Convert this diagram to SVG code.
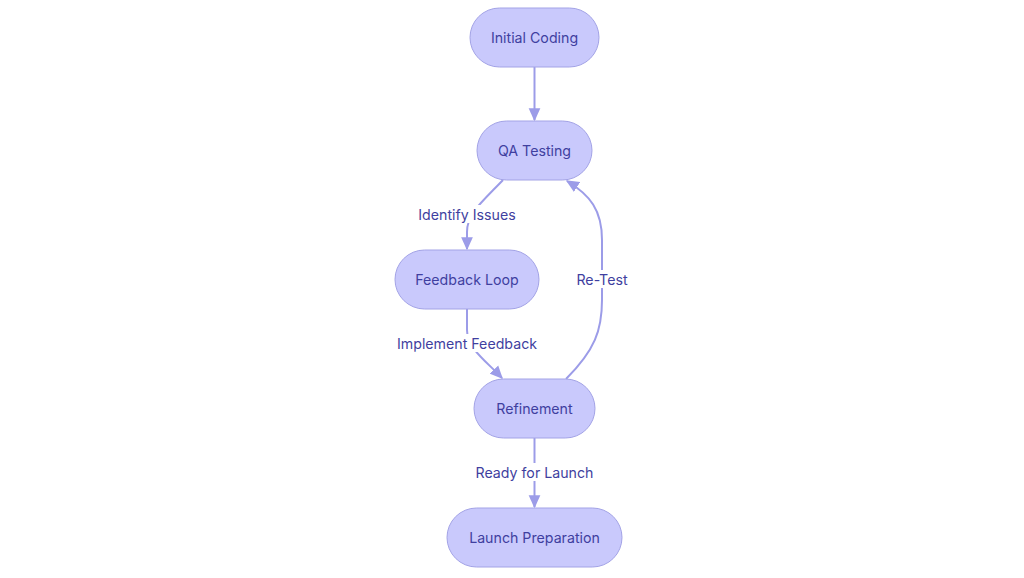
<svg xmlns="http://www.w3.org/2000/svg" width="1024" height="578" viewBox="0 0 1024 578">
<defs>
<marker id="arr" viewBox="0 0 10 10" refX="9" refY="5" markerWidth="13" markerHeight="13" markerUnits="userSpaceOnUse" orient="auto">
<path d="M0,0.5 L10,5 L0,9.5 z" fill="#9c9ce8"/>
</marker>
<style>
.node rect{fill:#c9c9fc;stroke:#a3a3e6;stroke-width:1}
.node text,.lbl text{font-family:Inter,"Noto Sans","Liberation Sans",sans-serif;font-size:14.2px;fill:#3f3fa0;text-anchor:middle;dominant-baseline:central}
.edge{fill:none;stroke:#9c9ce8;stroke-width:2}
.lbl rect{fill:#ffffff}
</style>
</defs>
<rect width="1024" height="578" fill="#ffffff"/>
<g id="connectors">
<path class="edge" d="M534.5,67 L534.5,120" marker-end="url(#arr)"/>
<path class="edge" d="M503,180 C480,204 467,214 467,232 L467,249" marker-end="url(#arr)"/>
<path class="edge" d="M467,309 L467,330 C467,348 485,360 502,378" marker-end="url(#arr)"/>
<path class="edge" d="M566,379 C595,350 602,330 602,300 L602,240 C602,210 590,195 567,181" marker-end="url(#arr)"/>
<path class="edge" d="M534.5,438 L534.5,507" marker-end="url(#arr)"/>
</g>
<g id="labels" class="lbl">
<rect x="419" y="205" width="96" height="18"/><text x="467" y="214">Identify Issues</text>
<rect x="397" y="334" width="140" height="18"/><text x="467" y="343">Implement Feedback</text>
<rect x="575" y="270" width="54" height="18"/><text x="602" y="279">Re-Test</text>
<rect x="476" y="463" width="117" height="18"/><text x="534.5" y="472">Ready for Launch</text>
</g>
<g id="initial" class="node"><rect x="470" y="8" width="129" height="59" rx="29.5"/><text x="534.5" y="37.5">Initial Coding</text></g>
<g id="qa" class="node"><rect x="477" y="121" width="115" height="59" rx="29.5"/><text x="534.5" y="150.5">QA Testing</text></g>
<g id="feedback" class="node"><rect x="395" y="250" width="144" height="59" rx="29.5"/><text x="467" y="279.5">Feedback Loop</text></g>
<g id="refinement" class="node"><rect x="474" y="379" width="121" height="59" rx="29.5"/><text x="534.5" y="408.5">Refinement</text></g>
<g id="launch" class="node"><rect x="447" y="508" width="175" height="59" rx="29.5"/><text x="534.5" y="537.5">Launch Preparation</text></g>
</svg>
